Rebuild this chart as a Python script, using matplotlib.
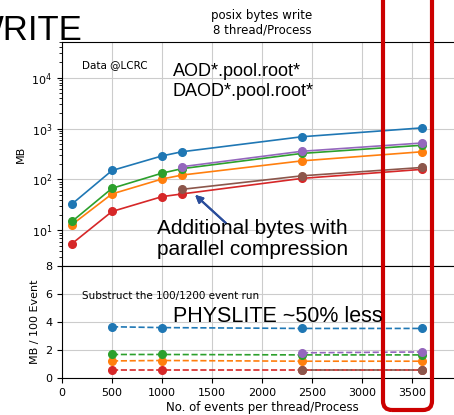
import numpy as np
import matplotlib
matplotlib.use('Agg')
import matplotlib.pyplot as plt
from matplotlib.patches import FancyBboxPatch
from matplotlib.transforms import IdentityTransform

# events per thread/process
events = [100, 500, 1000, 1200, 2400, 3600]
events_late = [1200, 2400, 3600]

# posix bytes written (MB)
mb_blue = [33, 150, 290, 350, 690, 1030]
mb_orange = [13, 52, 102, 122, 232, 350]
mb_green = [15, 67, 133, 163, 325, 470]
mb_red = [5.5, 23.5, 46, 52, 105, 158]
mb_purple = [178, 358, 520]
mb_brown = [64, 118, 172]

# MB per 100 events after subtracting the 100/1200 event run
events_sub = [500, 1000, 2400, 3600]
events_sub_late = [2400, 3600]
per_blue = [3.66, 3.6, 3.54, 3.54]
per_orange = [1.22, 1.25, 1.2, 1.2]
per_green = [1.68, 1.68, 1.65, 1.65]
per_red = [0.57, 0.57, 0.57, 0.57]
per_purple = [1.8, 1.86]
per_brown = [0.58, 0.58]

W, H = 454, 415


def px(x, y):
    return x / W, 1 - y / H


fig = plt.figure(figsize=(W / 100, H / 100), dpi=100)
left = 62 / W
width = 400 / W
ax1 = fig.add_axes([left, 1 - 266 / H, width, (266 - 42) / H])
ax2 = fig.add_axes([left, 1 - 378 / H, width, (378 - 266) / H], sharex=ax1)

kw = dict(marker='o', markersize=5.5, lw=1.2)
ax1.plot(events, mb_blue, color='C0', **kw)
ax1.plot(events, mb_orange, color='C1', **kw)
ax1.plot(events, mb_green, color='C2', **kw)
ax1.plot(events, mb_red, color='C3', **kw)
ax1.plot(events_late, mb_purple, color='C4', **kw)
ax1.plot(events_late, mb_brown, color='C5', **kw)
ax1.set_yscale('log')
ax1.set_ylim(2, 5e4)
ax1.set_xlim(0, 4000)
ax1.set_ylabel('MB', fontsize=8)
ax1.set_title('posix bytes write\n8 thread/Process', fontsize=8.5, pad=6)
ax1.tick_params(labelbottom=False, labelsize=8)
ax1.grid(True, color='#cccccc', lw=0.8)

kw2 = dict(marker='o', markersize=5.5, lw=1.2, ls='--')
ax2.plot(events_sub, per_blue, color='C0', **kw2)
ax2.plot(events_sub, per_orange, color='C1', **kw2)
ax2.plot(events_sub, per_green, color='C2', **kw2)
ax2.plot(events_sub, per_red, color='C3', **kw2)
ax2.plot(events_sub_late, per_purple, color='C4', **kw2)
ax2.plot(events_sub_late, per_brown, color='C5', **kw2)
ax2.set_ylim(0, 8)
ax2.set_yticks([0, 2, 4, 6, 8])
ax2.set_xticks(np.arange(0, 4000, 500))
ax2.set_ylabel('MB / 100 Event', fontsize=8)
ax2.set_xlabel('No. of events per thread/Process', fontsize=8.5, labelpad=2)
ax2.tick_params(labelsize=8)
ax2.grid(True, color='#cccccc', lw=0.8)

# slide annotations (multi-line texts are placed by their last baseline)
arial = 'Liberation Sans'
fig.text(*px(83, 40), 'WRITE', fontsize=25, family=arial, ha='right', va='baseline')
fig.text(*px(82, 68), 'Data @LCRC', fontsize=7.5, va='baseline')
fig.text(*px(173, 96), 'AOD*.pool.root*\nDAOD*.pool.root*', fontsize=13,
         family=arial, va='baseline', linespacing=1.2)
fig.text(*px(157, 255), 'Additional bytes with\nparallel compression', fontsize=15,
         family=arial, va='baseline', linespacing=1.15)
fig.text(*px(82, 299), 'Substruct the 100/1200 event run', fontsize=7.5, va='baseline')
fig.text(*px(173, 322), 'PHYSLITE ~50% less', fontsize=15.5, family=arial, va='baseline')

fig.add_artist(plt.annotate('', xy=px(193, 193), xytext=px(228, 225),
                            xycoords='figure fraction', textcoords='figure fraction',
                            arrowprops=dict(arrowstyle='-|>', color='#2a4d9b', lw=1.5,
                                            mutation_scale=11)))

box = FancyBboxPatch((383, H - 410), 49, 430, boxstyle='round,pad=0,rounding_size=9',
                     transform=IdentityTransform(), fill=False, ec='#cc0000', lw=3)
fig.add_artist(box)

fig.savefig('out.png', dpi=100)
